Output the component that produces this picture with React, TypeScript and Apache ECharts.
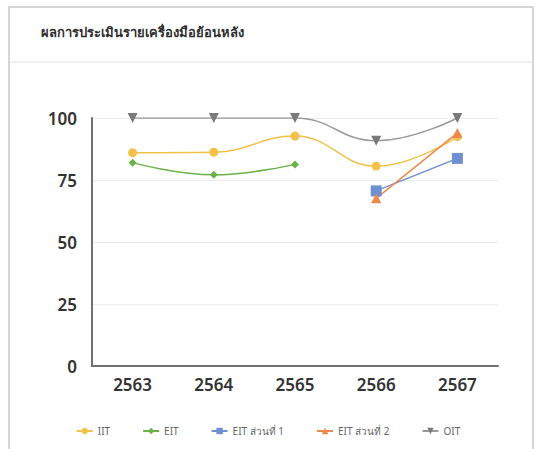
import React, { useEffect, useRef } from "react";
import * as echarts from "echarts";

const years = ["2563", "2564", "2565", "2566", "2567"];
const iit = [86, 86.2, 92.7, 80.6, 92.5];
const eit = [82, 77.1, 81.3, null, null];
const eitPart1 = [null, null, null, 70.6, 83.7];
const eitPart2 = [null, null, null, 67.6, 94];
const oit = [100, 100, 100, 90.8, 100];
const yTicks = [0, 25, 50, 75, 100];
const titleText = "ผลการประเมินรายเครื่องมือย้อนหลัง";
const seriesNames = ["IIT", "EIT", "EIT ส่วนที่ 1", "EIT ส่วนที่ 2", "OIT"];

const FONT = "'Noto Sans', 'Noto Sans CJK SC', sans-serif";

export default function App() {
  const ref = useRef<HTMLDivElement>(null);
  useEffect(() => {
    if (!ref.current) return;
    const chart = echarts.init(ref.current, null, { renderer: "svg" });
    const mk = (
      name: string,
      data: (number | null)[],
      color: string,
      symbol: string,
      size: number,
      smooth: boolean | number,
      extra: any = {}
    ) => ({
      name,
      type: "line",
      data,
      smooth,
      symbol,
      symbolSize: size,
      connectNulls: false,
      lineStyle: { color, width: 1.5 },
      itemStyle: { color },
      ...extra,
    });
    chart.setOption({
      animation: false,
      backgroundColor: "#ffffff",
      title: {
        text: titleText,
        left: 36,
        top: 20,
        textStyle: { fontFamily: FONT, fontSize: 13, fontWeight: "bold", color: "#2e2e2e" },
      },
      graphic: [
        {
          type: "rect",
          shape: { x: 9, y: 7, width: 524, height: 460 },
          style: { fill: "none", stroke: "#d6d6d6", lineWidth: 2 },
          silent: true,
        },
        {
          type: "line",
          shape: { x1: 10, y1: 62, x2: 532, y2: 62 },
          style: { stroke: "#efefef", lineWidth: 2 },
          silent: true,
        },
      ],
      legend: {
        data: seriesNames,
        bottom: 8,
        left: "center",
        itemGap: 32,
        itemWidth: 16,
        itemHeight: 8,
        textStyle: { fontFamily: FONT, fontSize: 10, color: "#666" },
      },
      grid: { left: 92, right: 38, top: 118, bottom: 83 },
      xAxis: {
        type: "category",
        data: years,
        axisLine: { lineStyle: { color: "#707070", width: 2 } },
        axisTick: { show: false },
        axisLabel: {
          margin: 10,
          fontFamily: FONT,
          fontSize: 17,
          fontWeight: 600,
          color: "#333",
        },
      },
      yAxis: {
        type: "value",
        min: yTicks[0],
        max: yTicks[yTicks.length - 1],
        interval: 25,
        axisLine: { show: true, lineStyle: { color: "#707070", width: 2 } },
        axisTick: { show: false },
        splitLine: { lineStyle: { color: "#ececec", width: 1 } },
        axisLabel: {
          margin: 15,
          fontFamily: FONT,
          fontSize: 17,
          fontWeight: 600,
          color: "#333",
        },
      },
      series: [
        mk(seriesNames[0], iit, "#f3c04a", "circle", 9, 0.45),
        mk(seriesNames[1], eit, "#6bb24a", "diamond", 8, 0.45),
        mk(seriesNames[2], eitPart1, "#6f8fd3", "rect", 11, false),
        mk(seriesNames[3], eitPart2, "#ec8a4c", "triangle", 10, false),
        mk(seriesNames[4], oit, "#9a9a9a", "triangle", 10, 0.45, {
          symbolRotate: 180,
          itemStyle: { color: "#7a7a7a" },
        }),
      ],
    });
    return () => chart.dispose();
  }, []);
  return (
    <div
      ref={ref}
      style={{ position: "fixed", left: 0, top: 0, width: 536, height: 449 }}
    />
  );
}
